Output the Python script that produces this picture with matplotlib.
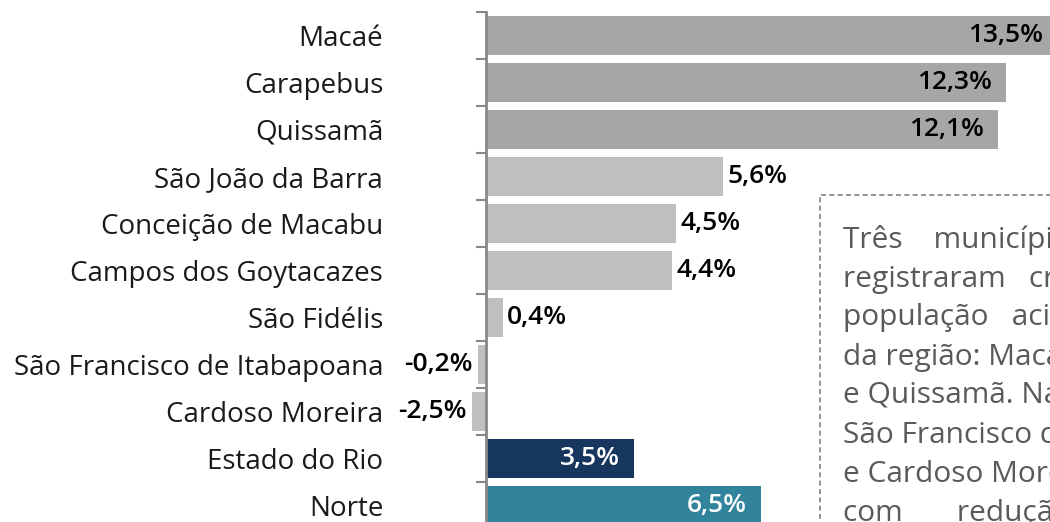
import matplotlib.pyplot as plt
import matplotlib.patches as mpatches
from matplotlib.ticker import FixedLocator

plt.rcParams['font.family'] = ['Open Sans', 'DejaVu Sans']

# municipalities, top to bottom
municipios = ['Macaé', 'Carapebus', 'Quissamã', 'São João da Barra',
              'Conceição de Macabu', 'Campos dos Goytacazes', 'São Fidélis',
              'São Francisco de Itabapoana', 'Cardoso Moreira',
              'Estado do Rio', 'Norte']
# bar lengths as drawn in the picture (the -2,5% bar is drawn short)
valores = [13.5, 12.3, 12.1, 5.6, 4.5, 4.4, 0.4, -0.2, -0.33, 3.5, 6.5]
rotulos = ['13,5%', '12,3%', '12,1%', '5,6%', '4,5%', '4,4%', '0,4%',
           '-0,2%', '-2,5%', '3,5%', '6,5%']
cores = ['#a6a6a6'] * 3 + ['#bfbfbf'] * 6 + ['#17365d', '#31849b']
rotulo_dentro = [True, True, True, False, False, False, False,
                 False, False, True, True]

texto_caixa = ['Três    municípios   que', 'registraram   crescimento',
               'população   acima  da', 'da região: Macaé, Carapebus',
               'e Quissamã. Na outra ponta,', 'São Francisco de Itabapoana',
               'e Cardoso Moreira ficaram', 'com       redução']

W, H = 1050, 522
fig = plt.figure(figsize=(W / 100, H / 100), dpi=100)
px_per_unit = 42.3
x0 = 486
top, step = 12, 47
n = len(municipios)
ax = fig.add_axes([x0 / W, 1 - (top + step * n) / H,
                   (W - x0) / W, step * n / H])

y = list(range(n))
bars = ax.barh(y, valores, height=0.83, color=cores, clip_on=False, zorder=2)
ax.set_xlim(0, (W - x0) / px_per_unit)
ax.set_ylim(n - 0.5, -0.5)

for sp in ['top', 'right', 'bottom']:
    ax.spines[sp].set_visible(False)
ax.spines['left'].set_color('#888888')
ax.spines['left'].set_linewidth(2)
ax.spines['left'].set_zorder(3)
ax.set_xticks([])

fs = 20
ax.yaxis.set_major_locator(FixedLocator(y))
ax.set_yticklabels(municipios, fontsize=fs, color='#1a1a1a')
ax.yaxis.set_minor_locator(FixedLocator([i - 0.5 for i in range(n + 1)]))
ax.tick_params(axis='y', which='major', length=0, pad=74)
ax.tick_params(axis='y', which='minor', length=7, width=1.5, color='#888888')

fv = 19
for i, (v, lab, dentro) in enumerate(zip(valores, rotulos, rotulo_dentro)):
    col = 'white' if cores[i] in ('#17365d', '#31849b') else 'black'
    if dentro:
        ax.text(v - 0.33, i, lab, ha='right', va='center', fontsize=fv,
                color=col, fontweight='semibold')
    elif v >= 0:
        ax.text(v + 0.1, i, lab, ha='left', va='center', fontsize=fv,
                color='black', fontweight='semibold')
    else:
        ax.text(v - 0.12, i, lab, ha='right', va='center', fontsize=fv,
                color='black', fontweight='semibold', clip_on=False)

# dashed text box at right (cut by the picture edge)
caixa = mpatches.Rectangle((820 / W, -0.1), 0.4, 1 - 195 / H + 0.1,
                           transform=fig.transFigure, fill=False,
                           edgecolor='#808080', linestyle=(0, (3, 2)),
                           linewidth=1.2)
fig.add_artist(caixa)
for k, linha in enumerate(texto_caixa):
    fig.text(843 / W, 1 - (240 + 39 * k) / H, linha, ha='left', va='center',
             fontsize=21.5, color='#5a5a5a')

fig.savefig('out.png', dpi=100)
